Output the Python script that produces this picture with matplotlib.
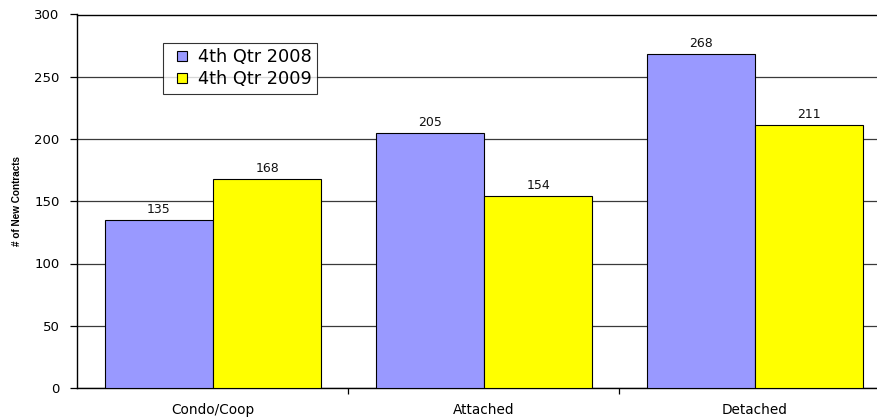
import matplotlib
matplotlib.use("Agg")
import matplotlib.pyplot as plt
import numpy as np
from matplotlib.lines import Line2D
from matplotlib.ticker import FixedLocator, NullFormatter

plt.rcParams['font.family'] = ['DejaVu Sans']

categories = ["Condo/Coop", "Attached", "Detached"]
series_names = ["4th Qtr 2008", "4th Qtr 2009"]
q4_2008 = [135, 205, 268]
q4_2009 = [168, 154, 211]
colors = ["#9999FF", "#FFFF00"]
y_ticks = [0, 50, 100, 150, 200, 250, 300]

fig = plt.figure(figsize=(8.78, 4.17), dpi=100)
W, H = 878, 417
ax = fig.add_axes([77.5 / W, (H - 388) / H, 1 - 77.5 / W, (388 - 14.5) / H])

x = np.arange(len(categories))
bw = 0.4
for i, (vals, name, col) in enumerate(zip([q4_2008, q4_2009], series_names, colors)):
    xs = x + (i - 0.5) * bw
    bars = ax.bar(xs, vals, width=bw, color=col, edgecolor="black",
                  linewidth=0.8, label=name, zorder=3)
    for b, v in zip(bars, vals):
        ax.annotate(str(v), (b.get_x() + b.get_width() / 2, v),
                    xytext=(0, 3), textcoords="offset points",
                    ha="center", va="bottom", fontsize=9, color="#111111")

ax.set_xlim(-0.5, -0.5 + (W - 77.5) / 271)
ax.set_ylim(0, 300)
ax.set_yticks(y_ticks)
ax.yaxis.grid(True, color="#3a3a3a", linewidth=0.9, zorder=0)
ax.set_axisbelow(True)

ax.set_xticks(x)
ax.set_xticklabels(categories, fontsize=9.8)
ax.tick_params(axis="x", which="major", length=0, pad=10.5)
ax.xaxis.set_minor_locator(FixedLocator([0.5, 1.5]))
ax.xaxis.set_minor_formatter(NullFormatter())
ax.tick_params(axis="x", which="minor", length=4, width=0.9, color="black")
ax.tick_params(axis="y", length=5, width=0.9, labelsize=9.5, pad=8, color="black")

ax.spines["right"].set_visible(False)
for side in ["left", "bottom", "top"]:
    ax.spines[side].set_color("black")
    ax.spines[side].set_linewidth(1.0)

ax.set_ylabel("# of New Contracts", fontsize=7.2, fontweight="bold",
              family=["Liberation Sans", "DejaVu Sans"], labelpad=9)

handles = [Line2D([], [], marker="s", linestyle="None", markersize=7,
                  markerfacecolor=c, markeredgecolor="black", markeredgewidth=0.8)
           for c in colors]
leg = ax.legend(handles, series_names, loc="upper left",
                bbox_to_anchor=((163 - 77.5) / 800.5, (388 - 42.5) / 373.5),
                borderaxespad=0, fontsize=12.8, frameon=True, fancybox=False,
                handlelength=1.5, handletextpad=0.12,
                borderpad=0.33, labelspacing=0.22)
leg.get_frame().set_edgecolor("black")
leg.get_frame().set_linewidth(0.8)

fig.savefig("out.png", dpi=100)
